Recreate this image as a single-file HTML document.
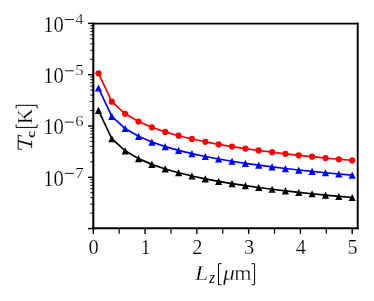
<!DOCTYPE html>
<html><head><meta charset="utf-8"><title>Tc vs Lz</title>
<style>html,body{margin:0;padding:0;background:#fff;}body{width:374px;height:301px;overflow:hidden;font-family:"Liberation Serif",serif;}svg{display:block;will-change:transform;opacity:0.999;}</style>
</head><body>
<svg width="374" height="301" viewBox="0 0 374 301">
<rect x="0" y="0" width="374" height="301" fill="#fff"/>
<g stroke="#000" fill="none"><line x1="93.30" y1="228.3" x2="93.30" y2="233.9" stroke-width="1.4"/><line x1="119.19" y1="228.3" x2="119.19" y2="233.70000000000002" stroke-width="1.2"/><line x1="145.08" y1="228.3" x2="145.08" y2="233.9" stroke-width="1.4"/><line x1="170.97" y1="228.3" x2="170.97" y2="233.70000000000002" stroke-width="1.2"/><line x1="196.86" y1="228.3" x2="196.86" y2="233.9" stroke-width="1.4"/><line x1="222.75" y1="228.3" x2="222.75" y2="233.70000000000002" stroke-width="1.2"/><line x1="248.64" y1="228.3" x2="248.64" y2="233.9" stroke-width="1.4"/><line x1="274.53" y1="228.3" x2="274.53" y2="233.70000000000002" stroke-width="1.2"/><line x1="300.42" y1="228.3" x2="300.42" y2="233.9" stroke-width="1.4"/><line x1="326.31" y1="228.3" x2="326.31" y2="233.70000000000002" stroke-width="1.2"/><line x1="352.20" y1="228.3" x2="352.20" y2="233.9" stroke-width="1.4"/><line x1="93.3" y1="228.60" x2="88.0" y2="228.60" stroke-width="1.4"/><line x1="93.3" y1="213.16" x2="90.3" y2="213.16" stroke-width="1.0"/><line x1="93.3" y1="204.12" x2="90.3" y2="204.12" stroke-width="1.0"/><line x1="93.3" y1="197.71" x2="90.3" y2="197.71" stroke-width="1.0"/><line x1="93.3" y1="192.74" x2="90.3" y2="192.74" stroke-width="1.0"/><line x1="93.3" y1="188.68" x2="90.3" y2="188.68" stroke-width="1.0"/><line x1="93.3" y1="185.25" x2="90.3" y2="185.25" stroke-width="1.0"/><line x1="93.3" y1="182.27" x2="90.3" y2="182.27" stroke-width="1.0"/><line x1="93.3" y1="179.65" x2="90.3" y2="179.65" stroke-width="1.0"/><line x1="93.3" y1="177.30" x2="88.0" y2="177.30" stroke-width="1.4"/><line x1="93.3" y1="161.86" x2="90.3" y2="161.86" stroke-width="1.0"/><line x1="93.3" y1="152.82" x2="90.3" y2="152.82" stroke-width="1.0"/><line x1="93.3" y1="146.41" x2="90.3" y2="146.41" stroke-width="1.0"/><line x1="93.3" y1="141.44" x2="90.3" y2="141.44" stroke-width="1.0"/><line x1="93.3" y1="137.38" x2="90.3" y2="137.38" stroke-width="1.0"/><line x1="93.3" y1="133.95" x2="90.3" y2="133.95" stroke-width="1.0"/><line x1="93.3" y1="130.97" x2="90.3" y2="130.97" stroke-width="1.0"/><line x1="93.3" y1="128.35" x2="90.3" y2="128.35" stroke-width="1.0"/><line x1="93.3" y1="126.00" x2="88.0" y2="126.00" stroke-width="1.4"/><line x1="93.3" y1="110.56" x2="90.3" y2="110.56" stroke-width="1.0"/><line x1="93.3" y1="101.52" x2="90.3" y2="101.52" stroke-width="1.0"/><line x1="93.3" y1="95.11" x2="90.3" y2="95.11" stroke-width="1.0"/><line x1="93.3" y1="90.14" x2="90.3" y2="90.14" stroke-width="1.0"/><line x1="93.3" y1="86.08" x2="90.3" y2="86.08" stroke-width="1.0"/><line x1="93.3" y1="82.65" x2="90.3" y2="82.65" stroke-width="1.0"/><line x1="93.3" y1="79.67" x2="90.3" y2="79.67" stroke-width="1.0"/><line x1="93.3" y1="77.05" x2="90.3" y2="77.05" stroke-width="1.0"/><line x1="93.3" y1="74.70" x2="88.0" y2="74.70" stroke-width="1.4"/><line x1="93.3" y1="59.26" x2="90.3" y2="59.26" stroke-width="1.0"/><line x1="93.3" y1="50.22" x2="90.3" y2="50.22" stroke-width="1.0"/><line x1="93.3" y1="43.81" x2="90.3" y2="43.81" stroke-width="1.0"/><line x1="93.3" y1="38.84" x2="90.3" y2="38.84" stroke-width="1.0"/><line x1="93.3" y1="34.78" x2="90.3" y2="34.78" stroke-width="1.0"/><line x1="93.3" y1="31.35" x2="90.3" y2="31.35" stroke-width="1.0"/><line x1="93.3" y1="28.37" x2="90.3" y2="28.37" stroke-width="1.0"/><line x1="93.3" y1="25.75" x2="90.3" y2="25.75" stroke-width="1.0"/><line x1="93.3" y1="23.40" x2="88.0" y2="23.40" stroke-width="1.4"/></g>
<polyline fill="none" stroke="#ff0000" stroke-width="1.7" stroke-linejoin="round" points="98.48,73.30 111.83,101.70 125.19,113.79 138.54,121.59 151.89,127.35 165.25,131.93 178.60,135.72 191.95,138.96 205.31,141.79 218.66,144.30 232.02,146.55 245.37,148.60 258.72,150.47 272.08,152.20 285.43,153.81 298.78,155.31 312.14,156.71 325.49,158.03 338.85,159.27 352.20,160.45"/>
<g fill="#ff0000"><circle cx="98.48" cy="73.30" r="3.1"/><circle cx="111.83" cy="101.70" r="3.1"/><circle cx="125.19" cy="113.79" r="3.1"/><circle cx="138.54" cy="121.59" r="3.1"/><circle cx="151.89" cy="127.35" r="3.1"/><circle cx="165.25" cy="131.93" r="3.1"/><circle cx="178.60" cy="135.72" r="3.1"/><circle cx="191.95" cy="138.96" r="3.1"/><circle cx="205.31" cy="141.79" r="3.1"/><circle cx="218.66" cy="144.30" r="3.1"/><circle cx="232.02" cy="146.55" r="3.1"/><circle cx="245.37" cy="148.60" r="3.1"/><circle cx="258.72" cy="150.47" r="3.1"/><circle cx="272.08" cy="152.20" r="3.1"/><circle cx="285.43" cy="153.81" r="3.1"/><circle cx="298.78" cy="155.31" r="3.1"/><circle cx="312.14" cy="156.71" r="3.1"/><circle cx="325.49" cy="158.03" r="3.1"/><circle cx="338.85" cy="159.27" r="3.1"/><circle cx="352.20" cy="160.45" r="3.1"/></g>
<polyline fill="none" stroke="#0000ff" stroke-width="1.7" stroke-linejoin="round" points="98.48,88.02 111.83,116.43 125.19,128.52 138.54,136.31 151.89,142.07 165.25,146.65 178.60,150.44 191.95,153.68 205.31,156.51 218.66,159.02 232.02,161.27 245.37,163.32 258.72,165.20 272.08,166.93 285.43,168.53 298.78,170.03 312.14,171.43 325.49,172.75 338.85,174.00 352.20,175.18"/>
<g fill="#0000ff"><path d="M98.48,84.42L94.88,91.62L102.08,91.62Z"/><path d="M111.83,112.83L108.23,120.03L115.43,120.03Z"/><path d="M125.19,124.92L121.59,132.12L128.79,132.12Z"/><path d="M138.54,132.71L134.94,139.91L142.14,139.91Z"/><path d="M151.89,138.47L148.29,145.67L155.49,145.67Z"/><path d="M165.25,143.05L161.65,150.25L168.85,150.25Z"/><path d="M178.60,146.84L175.00,154.04L182.20,154.04Z"/><path d="M191.95,150.08L188.35,157.28L195.55,157.28Z"/><path d="M205.31,152.91L201.71,160.11L208.91,160.11Z"/><path d="M218.66,155.42L215.06,162.62L222.26,162.62Z"/><path d="M232.02,157.67L228.42,164.87L235.62,164.87Z"/><path d="M245.37,159.72L241.77,166.92L248.97,166.92Z"/><path d="M258.72,161.60L255.12,168.80L262.32,168.80Z"/><path d="M272.08,163.33L268.48,170.53L275.68,170.53Z"/><path d="M285.43,164.93L281.83,172.13L289.03,172.13Z"/><path d="M298.78,166.43L295.18,173.63L302.38,173.63Z"/><path d="M312.14,167.83L308.54,175.03L315.74,175.03Z"/><path d="M325.49,169.15L321.89,176.35L329.09,176.35Z"/><path d="M338.85,170.40L335.25,177.60L342.45,177.60Z"/><path d="M352.20,171.58L348.60,178.78L355.80,178.78Z"/></g>
<polyline fill="none" stroke="#000000" stroke-width="1.7" stroke-linejoin="round" points="98.48,110.34 111.83,138.74 125.19,150.83 138.54,158.63 151.89,164.39 165.25,168.96 178.60,172.76 191.95,176.00 205.31,178.83 218.66,181.33 232.02,183.59 245.37,185.64 258.72,187.51 272.08,189.24 285.43,190.85 298.78,192.34 312.14,193.75 325.49,195.07 338.85,196.31 352.20,197.49"/>
<g fill="#000000"><path d="M98.48,106.74L94.88,113.94L102.08,113.94Z"/><path d="M111.83,135.14L108.23,142.34L115.43,142.34Z"/><path d="M125.19,147.23L121.59,154.43L128.79,154.43Z"/><path d="M138.54,155.03L134.94,162.23L142.14,162.23Z"/><path d="M151.89,160.79L148.29,167.99L155.49,167.99Z"/><path d="M165.25,165.36L161.65,172.56L168.85,172.56Z"/><path d="M178.60,169.16L175.00,176.36L182.20,176.36Z"/><path d="M191.95,172.40L188.35,179.60L195.55,179.60Z"/><path d="M205.31,175.23L201.71,182.43L208.91,182.43Z"/><path d="M218.66,177.73L215.06,184.93L222.26,184.93Z"/><path d="M232.02,179.99L228.42,187.19L235.62,187.19Z"/><path d="M245.37,182.04L241.77,189.24L248.97,189.24Z"/><path d="M258.72,183.91L255.12,191.11L262.32,191.11Z"/><path d="M272.08,185.64L268.48,192.84L275.68,192.84Z"/><path d="M285.43,187.25L281.83,194.45L289.03,194.45Z"/><path d="M298.78,188.74L295.18,195.94L302.38,195.94Z"/><path d="M312.14,190.15L308.54,197.35L315.74,197.35Z"/><path d="M325.49,191.47L321.89,198.67L329.09,198.67Z"/><path d="M338.85,192.71L335.25,199.91L342.45,199.91Z"/><path d="M352.20,193.89L348.60,201.09L355.80,201.09Z"/></g>
<g stroke="#000" fill="none" stroke-linecap="square"><line x1="93.3" y1="23.6" x2="93.3" y2="228.3" stroke-width="2.1"/><line x1="357.7" y1="23.6" x2="357.7" y2="228.3" stroke-width="1.9"/><line x1="93.3" y1="23.6" x2="357.7" y2="23.6" stroke-width="1.7"/><line x1="93.3" y1="228.3" x2="357.7" y2="228.3" stroke-width="2.0"/></g>
<g font-family="'Liberation Serif', serif" font-size="20.4" fill="#000" stroke="#fff" stroke-width="0.2">
<text x="93.70" y="253.8" text-anchor="middle">0</text>
<text x="145.48" y="253.8" text-anchor="middle">1</text>
<text x="197.26" y="253.8" text-anchor="middle">2</text>
<text x="249.04" y="253.8" text-anchor="middle">3</text>
<text x="300.82" y="253.8" text-anchor="middle">4</text>
<text x="352.60" y="253.8" text-anchor="middle">5</text>
<text transform="translate(43.3,185.50) scale(0.92,1)" font-size="22.4">10</text>
<path d="M64.9,173.40H73.9" stroke="#000" stroke-width="0.9" fill="none"/>
<text transform="translate(75.2,177.70) scale(1.1,1)" font-size="15.2">7</text>
<text transform="translate(43.3,134.20) scale(0.92,1)" font-size="22.4">10</text>
<path d="M64.9,122.10H73.9" stroke="#000" stroke-width="0.9" fill="none"/>
<text transform="translate(75.2,126.40) scale(1.1,1)" font-size="15.2">6</text>
<text transform="translate(43.3,82.90) scale(0.92,1)" font-size="22.4">10</text>
<path d="M64.9,70.80H73.9" stroke="#000" stroke-width="0.9" fill="none"/>
<text transform="translate(75.2,75.10) scale(1.1,1)" font-size="15.2">5</text>
<text transform="translate(43.3,31.60) scale(0.92,1)" font-size="22.4">10</text>
<path d="M64.9,19.50H73.9" stroke="#000" stroke-width="0.9" fill="none"/>
<text transform="translate(75.2,23.80) scale(1.1,1)" font-size="15.2">4</text>
</g>
<g transform="translate(195,280.1)" font-family="'Liberation Serif', serif" fill="#000"><text transform="translate(0.0,0) scale(1.13,1)" font-size="21" font-style="italic" stroke="#fff" stroke-width="0.25">L</text><text transform="translate(14.3,2.9) scale(0.85,1)" font-size="17.5" font-style="italic">z</text><text transform="translate(27.9,0) scale(1.13,1)" font-size="21" font-style="italic" stroke="#fff" stroke-width="0.25">μ</text><text transform="translate(39.3,0) scale(1.06,1)" font-size="21" stroke="#fff" stroke-width="0.25">m</text><path d="M26.5,-16.4H23.5V4.6H26.5" fill="none" stroke="#000" stroke-width="1.0"/><path d="M56.6,-16.4H59.6V4.6H56.6" fill="none" stroke="#000" stroke-width="1.0"/></g>
<g transform="translate(32.1,150.0) rotate(-90)" font-family="'Liberation Serif', serif" fill="#000"><g transform="translate(0,0)" fill="none" stroke="#000" stroke-linecap="butt"><path d="M0.7,-13.9H15.0" stroke-width="0.95"/><path d="M9.0,-13.9L5.4,-0.4" stroke-width="1.75"/><path d="M1.9,-0.45H9.0" stroke-width="0.9"/><path d="M1.0,-14.3L0.5,-9.9M14.8,-14.3L13.9,-9.9" stroke-width="0.8"/></g><text transform="translate(12.2,2.8) scale(1.18,1)" font-size="13.2" stroke="#000" stroke-width="0.15">c</text><text transform="translate(26.0,0) scale(1.0,1)" font-size="21" stroke="#fff" stroke-width="0.25">K</text><path d="M25.6,-15.999999999999998H22.6V5.0H25.6" fill="none" stroke="#000" stroke-width="1.0"/><path d="M41.7,-15.999999999999998H44.7V5.0H41.7" fill="none" stroke="#000" stroke-width="1.0"/></g>
</svg>
</body></html>
